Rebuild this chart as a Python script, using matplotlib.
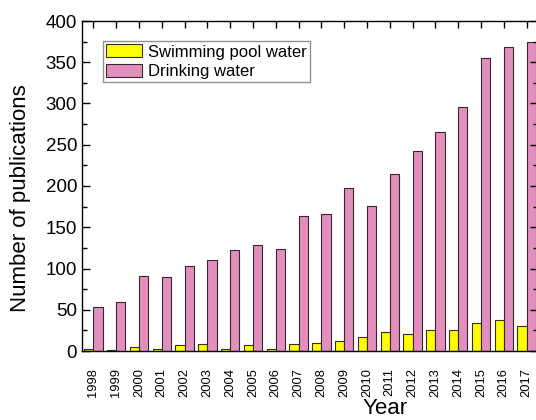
import numpy as np
import matplotlib.pyplot as plt
from matplotlib.ticker import MultipleLocator

plt.rcParams['font.family'] = ['Liberation Sans', 'DejaVu Sans']

# data
years = [str(y) for y in range(1998, 2018)]
pool = [2, 1, 5, 2, 7, 8, 2, 7, 3, 9, 10, 12, 17, 23, 21, 26, 26, 34, 37, 30]
drinking = [53, 59, 91, 90, 103, 110, 123, 129, 124, 164, 166, 197, 176, 215,
            243, 266, 296, 355, 368, 374]

x = np.arange(len(years))
w = 0.4

fig = plt.figure(figsize=(5.36, 4.2), dpi=100)
ax = fig.add_axes([82/536, 1 - 351/420, 456/536, 330/420])

ax.bar(x - w/2, pool, w, color='#ffff00', edgecolor='#33330a', linewidth=0.8,
       label='Swimming pool water')
ax.bar(x + w/2, drinking, w, color='#e38fbe', edgecolor='#3a2430', linewidth=0.8,
       label='Drinking water')

ax.set_xlim(-0.5, 19.5)
ax.set_ylim(0, 400)
ax.set_xticks(x)
ax.set_xticklabels(years, rotation=90, fontsize=9.3)
ax.yaxis.set_major_locator(MultipleLocator(50))
ax.yaxis.set_minor_locator(MultipleLocator(25))
ax.tick_params(axis='y', which='both', direction='in', right=True, labelsize=13.5)
ax.tick_params(axis='y', which='major', length=6, width=1)
ax.tick_params(axis='y', which='minor', length=3.5, width=1)
ax.tick_params(axis='x', direction='in', top=True, bottom=False, length=5, width=1, pad=12)
for s in ax.spines.values():
    s.set_linewidth(1)

ax.set_xlabel('Year', fontsize=16, va='baseline')
ax.xaxis.set_label_coords(0.664, -0.19)
ax.set_ylabel('Number of publications', fontsize=16)
ax.yaxis.set_label_coords(-0.112, 0.462)

leg = ax.legend(loc='upper left', bbox_to_anchor=(0.045, 0.94), fontsize=12,
                frameon=True, fancybox=False, edgecolor='#777777',
                borderpad=0.2, labelspacing=0.25, handlelength=2.15,
                handleheight=0.85, handletextpad=0.35, borderaxespad=0)
leg.get_frame().set_linewidth(1)

fig.savefig('out.png', dpi=100)
